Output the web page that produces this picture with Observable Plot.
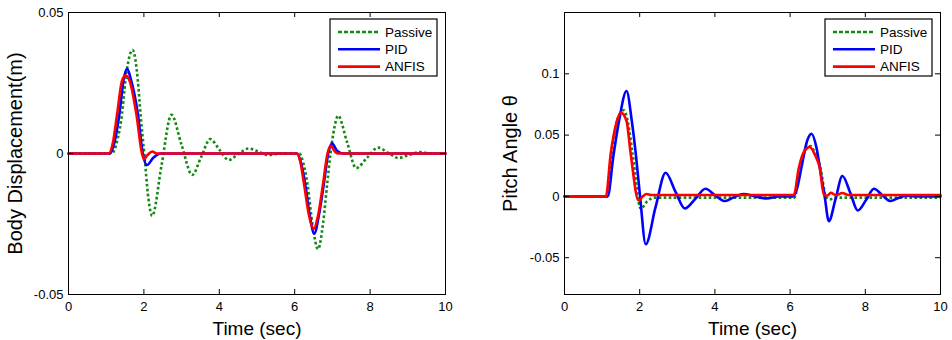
<!DOCTYPE html>
<html><head><meta charset="utf-8">
<script src="https://cdn.jsdelivr.net/npm/d3@7"></script>
<script src="https://cdn.jsdelivr.net/npm/@observablehq/plot@0.6"></script>
<style>
html,body{margin:0;padding:0;background:#fff;}
#wrap{display:flex;width:952px;height:340px;}
#wrap > div{width:476px;height:340px;}
svg{display:block;}
</style></head><body><div id="wrap"><div id="left"></div><div id="right"></div></div>
<script>
const seriesNames = ["Passive", "PID", "ANFIS"];
const seriesColors = ["#108a10", "#0000ff", "#ff0000"];
const xTicks = [0, 2, 4, 6, 8, 10];
const bodyTicks = [-0.05, 0, 0.05];
const pitchTicks = [-0.05, 0, 0.05, 0.1];
const xLabel = "Time (sec)";
const bodyLabel = "Body Displacement(m)";
const pitchLabel = "Pitch Angle θ";

// Body displacement (m)
const bodyPassiveT = [0, 1.15, 1.3, 1.42, 1.51, 1.70, 1.84, 1.91, 2.01, 2.12, 2.22, 2.47, 2.73, 3.0, 3.28, 3.52, 3.76, 4.0, 4.25, 4.5, 4.78, 5.05, 5.3, 5.6, 6.12, 6.22, 6.34, 6.48, 6.62, 6.75, 6.86, 6.95, 7.05, 7.15, 7.39, 7.63, 7.92, 8.21, 8.48, 8.75, 9.05, 9.33, 9.6, 10];
const bodyPassiveV = [0, 0, 0.005, 0.014, 0.0258, 0.0367, 0.0258, 0.014, 0, -0.016, -0.0221, -0.004, 0.0137, 0.003, -0.0076, -0.0012, 0.0051, 0.0014, -0.0023, -0.0002, 0.0018, 0.0006, -0.0006, 0, 0, -0.003, -0.011, -0.026, -0.0339, -0.025, -0.011, 0, 0.009, 0.0134, 0.004, -0.0052, -0.0015, 0.0021, 0.0002, -0.0016, -0.0004, 0.0005, 0, 0];
const bodyPidT = [0, 1.1, 1.22, 1.35, 1.46, 1.555, 1.66, 1.84, 1.97, 2.08, 2.25, 2.45, 6.06, 6.16, 6.28, 6.40, 6.52, 6.64, 6.77, 6.89, 6.99, 7.12, 7.3, 10];
const bodyPidV = [0, 0, 0.004, 0.014, 0.026, 0.030, 0.026, 0.014, 0, -0.0041, -0.0015, 0, 0, -0.003, -0.011, -0.022, -0.0284, -0.022, -0.011, 0, 0.0036, 0.001, 0, 0];
const bodyAnfisT = [0, 1.07, 1.18, 1.29, 1.42, 1.51, 1.62, 1.80, 1.95, 2.0, 2.1, 2.22, 2.35, 6.06, 6.15, 6.25, 6.38, 6.50, 6.62, 6.75, 6.87, 6.96, 7.05, 7.14, 10];
const bodyAnfisV = [0, 0, 0.004, 0.014, 0.0258, 0.0276, 0.0258, 0.014, 0, -0.002, -0.0005, 0.0007, 0, 0, -0.003, -0.011, -0.022, -0.0268, -0.022, -0.011, 0, 0.0027, 0.001, 0, 0];

// Pitch angle
const pitchPassiveT = [0, 1.12, 1.25, 1.4, 1.58, 1.68, 1.81, 2.03, 2.2, 2.4, 6.12, 6.25, 6.40, 6.54, 6.68, 6.81, 6.95, 7.05, 7.2, 10];
const pitchPassiveV = [0, 0, 0.035, 0.062, 0.0703, 0.0615, 0.035, -0.0102, -0.004, -0.001, -0.001, 0.023, 0.037, 0.041, 0.034, 0.023, 0, -0.0025, -0.001, -0.001];
const pitchPidT = [0, 1.15, 1.3, 1.45, 1.65, 1.79, 1.895, 2.01, 2.16, 2.42, 2.69, 2.95, 3.20, 3.48, 3.75, 4.0, 4.27, 4.5, 4.76, 5.07, 5.38, 5.7, 6.08, 6.18, 6.30, 6.45, 6.57, 6.7, 6.82, 6.92, 7.03, 7.21, 7.39, 7.6, 7.80, 8.02, 8.23, 8.45, 8.67, 8.9, 9.1, 9.4, 10];
const pitchPidV = [0, 0, 0.033, 0.0615, 0.086, 0.0615, 0.035, 0, -0.039, -0.009, 0.0193, 0.004, -0.0098, -0.002, 0.0062, 0.001, -0.0038, -0.0008, 0.002, 0, -0.0016, 0, 0, 0.006, 0.0234, 0.045, 0.0511, 0.04, 0.018, 0, -0.0202, -0.002, 0.0166, 0.003, -0.0115, -0.003, 0.0062, 0.001, -0.0038, -0.001, 0.0005, 0, 0];
const pitchAnfisT = [0, 1.1, 1.23, 1.38, 1.5, 1.65, 1.76, 1.97, 2.08, 2.18, 2.3, 6.1, 6.23, 6.38, 6.52, 6.66, 6.79, 6.9, 7.0, 7.08, 7.22, 7.39, 7.55, 10];
const pitchAnfisV = [0, 0, 0.035, 0.06, 0.0683, 0.0615, 0.035, -0.0033, 0, 0.002, 0.0012, 0.0012, 0.023, 0.037, 0.0403, 0.034, 0.023, 0.001, 0.0008, 0.003, 0.001, 0.0028, 0.0012, 0.0012];

const rows = (T, V) => T.map((t, i) => ({t, v: V[i]}));
const dashes = ["2.6,2.4", null, null];
const legendDashes = ["4,2", null, null];

function panel(el, {series, yDomain, yTicks, yLabel, marginLeft, marginRight, labelDx, legendX}) {
  const W = 476, H = 340, mt = 12, mb = 46;
  const IW = W - marginLeft - marginRight, IH = H - mt - mb;
  const lines = series.map((s, i) => Plot.line(s, {
    x: "t", y: "v", curve: "monotone-x", stroke: seriesColors[i],
    strokeWidth: 2.6, strokeDasharray: dashes[i], strokeLinejoin: "round",
    strokeLinecap: dashes[i] ? "butt" : "round"
  }));
  const svg = Plot.plot({
    width: W, height: H, marginLeft, marginRight, marginTop: mt, marginBottom: mb,
    style: {fontFamily: "'Liberation Sans', Arial, sans-serif", fontSize: "13px", background: "#fff", color: "#000"},
    x: {domain: [0, 10]},
    y: {domain: yDomain},
    marks: [
      ...lines,
      Plot.frame({stroke: "#000", strokeWidth: 1}),
      Plot.tickX(xTicks, {x: d => d, insetTop: IH - 5, stroke: "#000"}),
      Plot.tickX(xTicks, {x: d => d, insetBottom: IH - 5, stroke: "#000"}),
      Plot.tickY(yTicks, {y: d => d, insetRight: IW - 5, stroke: "#000"}),
      Plot.tickY(yTicks, {y: d => d, insetLeft: IW - 5, stroke: "#000"}),
      Plot.axisX(xTicks, {tickSize: 0, tickPadding: 7, tickFormat: d => String(d), label: null, fontSize: 13}),
      Plot.axisY(yTicks, {tickSize: 0, tickPadding: 5, tickFormat: d => String(d), label: null, fontSize: 13}),
      Plot.text([xLabel], {text: d => d, frameAnchor: "bottom", dy: 40, lineAnchor: "bottom", fontSize: 19, fill: "#000"}),
      Plot.text([yLabel], {text: d => d, frameAnchor: "left", dx: labelDx, rotate: -90, lineAnchor: "top", textAnchor: "middle", fontSize: 20, fill: "#000"})
    ]
  });
  const g = d3.select(svg).append("g").attr("text-anchor", "start");
  const x0 = legendX, y0 = 19, bw = 107, bh = 57;
  g.append("rect").attr("x", x0).attr("y", y0).attr("width", bw).attr("height", bh)
    .attr("fill", "#fff").attr("stroke", "#000").attr("stroke-width", 1.2);
  seriesNames.forEach((name, i) => {
    const yy = y0 + 13 + i * 17.3;
    g.append("line").attr("x1", x0 + 8).attr("x2", x0 + 50).attr("y1", yy).attr("y2", yy)
      .attr("stroke", seriesColors[i]).attr("stroke-width", 2.6)
      .attr("stroke-dasharray", legendDashes[i]);
    g.append("text").attr("x", x0 + 55).attr("y", yy).attr("dy", "0.36em")
      .attr("text-anchor", "start")
      .attr("font-size", 13.5).attr("fill", "#000").text(name);
  });
  document.getElementById(el).appendChild(svg);
}

panel("left", {
  series: [rows(bodyPassiveT, bodyPassiveV), rows(bodyPidT, bodyPidV), rows(bodyAnfisT, bodyAnfisV)],
  yDomain: [-0.05, 0.05], yTicks: bodyTicks, yLabel: bodyLabel,
  marginLeft: 68, marginRight: 31, labelDx: -60.5, legendX: 330
});
panel("right", {
  series: [rows(pitchPassiveT, pitchPassiveV), rows(pitchPidT, pitchPidV), rows(pitchAnfisT, pitchAnfisV)],
  yDomain: [-0.08, 0.15], yTicks: pitchTicks, yLabel: pitchLabel,
  marginLeft: 88, marginRight: 12, labelDx: -61.5, legendX: 349
});
</script></body></html>
